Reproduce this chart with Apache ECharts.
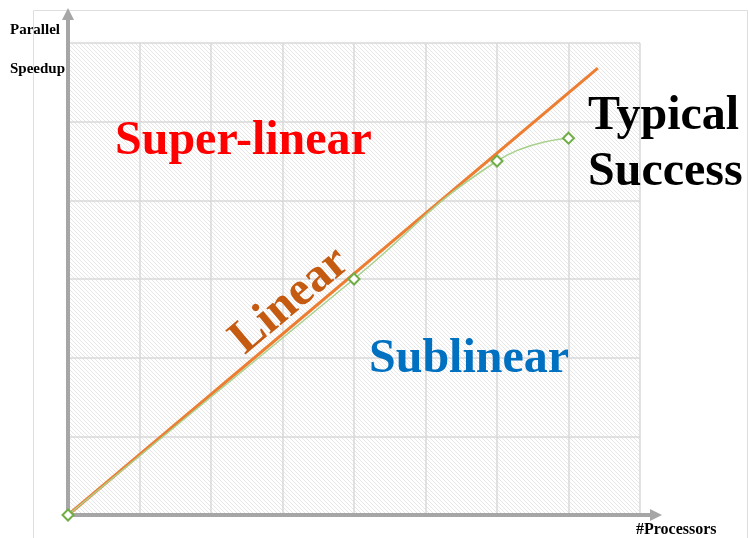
<!DOCTYPE html>
<html>
<head>
<meta charset="utf-8">
<script src="https://cdn.jsdelivr.net/npm/echarts@6/dist/echarts.min.js"></script>
<style>html,body{margin:0;padding:0;background:#fff;}#c{width:749px;height:538px;}</style>
</head>
<body>
<div id="c"></div>
<script>
// Data
const processors = [0, 4, 6, 7];
const typicalSpeedup = [0, 3.0, 4.5, 4.79];
const linearX = [0, 7.41];
const linearY = [0, 5.68];
const xTicks = [0, 1, 2, 3, 4, 5, 6, 7, 8];
const yTicks = [0, 1, 2, 3, 4, 5, 6];

function hatch() {
  const c = document.createElement('canvas');
  c.width = 4; c.height = 4;
  const g = c.getContext('2d');
  g.fillStyle = '#ffffff'; g.fillRect(0, 0, 4, 4);
  g.strokeStyle = '#e6e6e6'; g.lineWidth = 1;
  g.beginPath();
  g.moveTo(0, 0); g.lineTo(4, 4);
  g.moveTo(-1, 3); g.lineTo(1, 5);
  g.moveTo(3, -1); g.lineTo(5, 1);
  g.stroke();
  return c;
}

const chart = echarts.init(document.getElementById('c'), null, {renderer: 'canvas'});
const serif = '"Liberation Serif", "Times New Roman", serif';
const T = (x, y, text, size, color, extra) => Object.assign({
  type: 'text', x: x, y: y, z: 100,
  style: {text: text, font: 'bold ' + size + 'px ' + serif, fill: color, textVerticalAlign: 'middle'}
}, extra || {});
chart.setOption({
  animation: false,
  backgroundColor: '#fff',
  grid: [
    {left: 68, right: 109, top: 43, bottom: 23, show: true, borderWidth: 0,
     backgroundColor: {image: hatch(), repeat: 'repeat'}},
    {left: 68, right: 93, top: 14, bottom: 23}
  ],
  xAxis: [
    {gridIndex: 0, type: 'value', min: xTicks[0], max: xTicks[xTicks.length - 1], interval: 1,
     axisLine: {show: false}, axisTick: {show: false}, axisLabel: {show: false},
     splitLine: {show: true, lineStyle: {color: '#d9d9d9', width: 1.5}}},
    {gridIndex: 1, type: 'value', min: 0, max: 1,
     axisLine: {show: true, symbol: ['none', 'triangle'], symbolSize: [12, 12],
                lineStyle: {color: '#a6a6a6', width: 4}},
     axisTick: {show: false}, axisLabel: {show: false}, splitLine: {show: false}}
  ],
  yAxis: [
    {gridIndex: 0, type: 'value', min: yTicks[0], max: yTicks[yTicks.length - 1], interval: 1,
     axisLine: {show: false}, axisTick: {show: false}, axisLabel: {show: false},
     splitLine: {show: true, lineStyle: {color: '#d9d9d9', width: 1.5}}},
    {gridIndex: 1, type: 'value', min: 0, max: 1,
     axisLine: {show: true, symbol: ['none', 'triangle'], symbolSize: [12, 12],
                lineStyle: {color: '#a6a6a6', width: 4}},
     axisTick: {show: false}, axisLabel: {show: false}, splitLine: {show: false}}
  ],
  series: [
    {type: 'line', xAxisIndex: 0, yAxisIndex: 0, smooth: true,
     data: processors.map((x, i) => [x, typicalSpeedup[i]]),
     lineStyle: {color: '#a9d18e', width: 1.5},
     symbol: 'diamond', symbolSize: 11, showSymbol: true,
     itemStyle: {color: '#ffffff', borderColor: '#70ad47', borderWidth: 2}, z: 3},
    {type: 'line', xAxisIndex: 0, yAxisIndex: 0,
     data: linearX.map((x, i) => [x, linearY[i]]),
     lineStyle: {color: '#ed7d31', width: 3}, symbol: 'none', z: 2}
  ],
  graphic: [
    {type: 'rect', shape: {x: 33.5, y: 10.5, width: 714, height: 560}, silent: true, z: -10,
     style: {fill: 'none', stroke: '#dedede', lineWidth: 1}},
    T(10, 30, 'Parallel', 15, '#000'),
    T(10, 69, 'Speedup', 15, '#000'),
    T(636, 530, '#Processors', 16, '#000'),
    T(115, 142, 'Super-linear', 48, '#ff0000'),
    T(588, 117, 'Typical', 48, '#000'),
    T(588, 173, 'Success', 48, '#000'),
    T(369, 360, 'Sublinear', 48, '#0070c0'),
    {type: 'text', x: 290, y: 301, z: 100, rotation: 40 * Math.PI / 180,
     style: {text: 'Linear', font: 'bold 48px ' + serif, fill: '#c55a11', textAlign: 'center', textVerticalAlign: 'middle'}}
  ]
});
</script>
</body>
</html>
